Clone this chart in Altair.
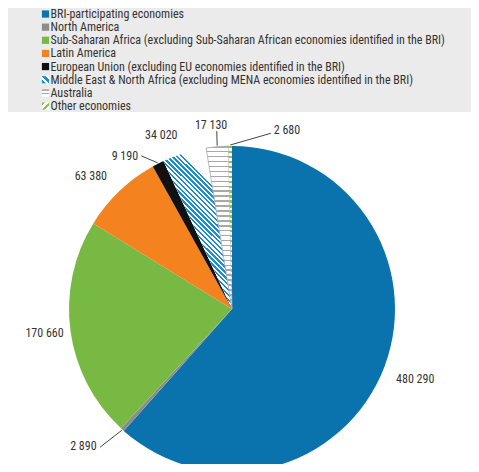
import math
import altair as alt
import pandas as pd

# ---------------- data ----------------
categories = [
    "BRI-participating economies",
    "North America",
    "Sub-Saharan Africa (excluding Sub-Saharan African economies identified in the BRI)",
    "Latin America",
    "European Union (excluding EU economies identified in the BRI)",
    "Middle East & North Africa (excluding MENA economies identified in the BRI)",
    "Australia",
    "Other economies",
]
values = [480290, 2890, 170660, 63380, 9190, 34020, 17130, 2680]
value_labels = ["480 290", "2 890", "170 660", "63 380", "9 190", "34 020", "17 130", "2 680"]

# ---------------- styles / layout ----------------
colors = ["#0A72AC", "#8C8C8C", "#78B943", "#F3821F", "#111111", "white", "white", "white"]
FONT = "Liberation Sans Narrow, Roboto Condensed, Liberation Sans, sans-serif"
TXT = "#333333"
R = 163
# label placement: (angle nudge in degrees, radius)
label_layout = {
    categories[0]: (0, 196), categories[1]: (5.1, 202), categories[2]: (0.4, 189),
    categories[3]: (-3, 194), categories[4]: (-8, 187), categories[5]: (-5.1, 188),
    categories[6]: (-1.3, 185), categories[7]: (17.7, 187),
}
leader_layout = {
    categories[1]: (1.4, 191), categories[4]: (-3.7, 178),
    categories[6]: (0.3, 178.6), categories[7]: (13.1, 180),
}


def stripes(c1, c2, n, frac, x1, y1, x2, y2):
    stops = []
    for i in range(n):
        a, b, c = i / n, (i + frac) / n, (i + 1) / n
        stops += [{"offset": a, "color": c1}, {"offset": b, "color": c1},
                  {"offset": b, "color": c2}, {"offset": c, "color": c2}]
    return {"gradient": "linear", "x1": x1, "y1": y1, "x2": x2, "y2": y2, "stops": stops}


MENA_BLUE = "#1E8DD0"
AUS_GRAY = "#A8A8A8"
OTH_GREEN = "#8DC63F"
pie_patterns = {
    categories[5]: stripes(MENA_BLUE, "white", 36, 0.5, 0, 1, 0.39, 0.08),
    categories[6]: stripes(AUS_GRAY, "white", 33, 0.3, 0, 0, 0, 1),
    categories[7]: stripes(OTH_GREEN, "white", 33, 0.5, 0, 0, 0, 1),
}
legend_patterns = {
    categories[5]: stripes(MENA_BLUE, "white", 2, 0.5, 0, 1, 1, 0),
    categories[6]: stripes(AUS_GRAY, "white", 2, 0.35, 0, 0, 0, 1),
    categories[7]: stripes(OTH_GREEN, "white", 2, 0.45, 0, 0, 1, 1),
}

# ---------------- derived tables ----------------
df = pd.DataFrame({"cat": categories, "value": values, "idx": range(len(values)),
                   "label": value_labels})
total = float(sum(values))
cum = 0.0
mids = []
for v in values:
    mids.append((cum + v / 2) / total * 360)
    cum += v
df["mid"] = mids

lab_x, lab_y = [], []
for c, m in zip(categories, mids):
    d, r = label_layout[c]
    a = math.radians(m + d)
    lab_x.append(r * math.sin(a))
    lab_y.append(r * math.cos(a))
df["lx"] = lab_x
df["ly"] = lab_y

lead_rows = []
for c, m in zip(categories, mids):
    if c in leader_layout:
        a0 = math.radians(m)
        lead_rows.append({"cat": c, "seq": 0, "x": (R + 1) * math.sin(a0), "y": (R + 1) * math.cos(a0)})
        d, r = leader_layout[c]
        a1 = math.radians(m + d)
        lead_rows.append({"cat": c, "seq": 1, "x": r * math.sin(a1), "y": r * math.cos(a1)})
leaders = pd.DataFrame(lead_rows)

# ---------------- pie chart ----------------
PW, PH = 463, 352
xs = alt.Scale(domain=[-224, PW - 224], nice=False, zero=False)
ys = alt.Scale(domain=[-(PH - 197), 197], nice=False, zero=False)
color_scale = alt.Scale(domain=categories, range=colors)

base = alt.Chart(df).encode(
    theta=alt.Theta("value:Q", stack=True),
    order=alt.Order("idx:Q"),
    x=alt.XDatum(0, type="quantitative", scale=xs, axis=None),
    y=alt.YDatum(0, type="quantitative", scale=ys, axis=None),
)
arcs = base.mark_arc(radius=R, clip=True).encode(
    color=alt.Color("cat:N", scale=color_scale, legend=None)
)
layers = [arcs]
for c, g in pie_patterns.items():
    stroke = alt.value(AUS_GRAY) if c == categories[6] else alt.value("transparent")
    layers.append(
        base.mark_arc(radius=R, clip=True, strokeWidth=0.8).encode(
            fill=alt.condition(alt.datum.cat == c, alt.value(g), alt.value("transparent")),
            stroke=alt.condition(alt.datum.cat == c, stroke, alt.value("transparent")),
        )
    )

lines = alt.Chart(leaders).mark_line(color="#444444", strokeWidth=1).encode(
    x=alt.X("x:Q", scale=xs, axis=None),
    y=alt.Y("y:Q", scale=ys, axis=None),
    detail="cat:N",
    order="seq:Q",
)
texts = alt.Chart(df).mark_text(font=FONT, fontSize=12, color=TXT, align="center",
                                baseline="middle").encode(
    x=alt.X("lx:Q", scale=xs, axis=None),
    y=alt.Y("ly:Q", scale=ys, axis=None),
    text="label:N",
)
pie = alt.layer(*layers, lines, texts).properties(width=PW, height=PH)

# ---------------- legend panel ----------------
ldf = pd.DataFrame({"cat": categories})
lys = alt.Scale(type="point", domain=categories, range=[6, 98], padding=0)
lbase = alt.Chart(ldf).encode(y=alt.Y("cat:N", scale=lys, axis=None))
sq = lbase.mark_square(size=52, opacity=1, x=37.5).encode(
    color=alt.Color("cat:N", scale=color_scale, legend=None)
)
leg_layers = [sq]
for c, g in legend_patterns.items():
    leg_layers.append(
        lbase.transform_filter(alt.datum.cat == c).mark_square(size=52, opacity=1, x=37.5, fill=g)
    )
ltext = lbase.mark_text(font=FONT, fontSize=12, color=TXT, align="left", baseline="middle",
                        x=42.5).encode(text="cat:N")
legend = alt.layer(*leg_layers, ltext).properties(
    width=463, height=104, view=alt.ViewBackground(fill="#EBEBEB", stroke=None)
)

chart = alt.vconcat(legend, pie, spacing=0).properties(
    padding=0, background="white"
).configure_view(stroke=None)

chart.save("out.html", embed_options={"renderer": "svg", "actions": False})
